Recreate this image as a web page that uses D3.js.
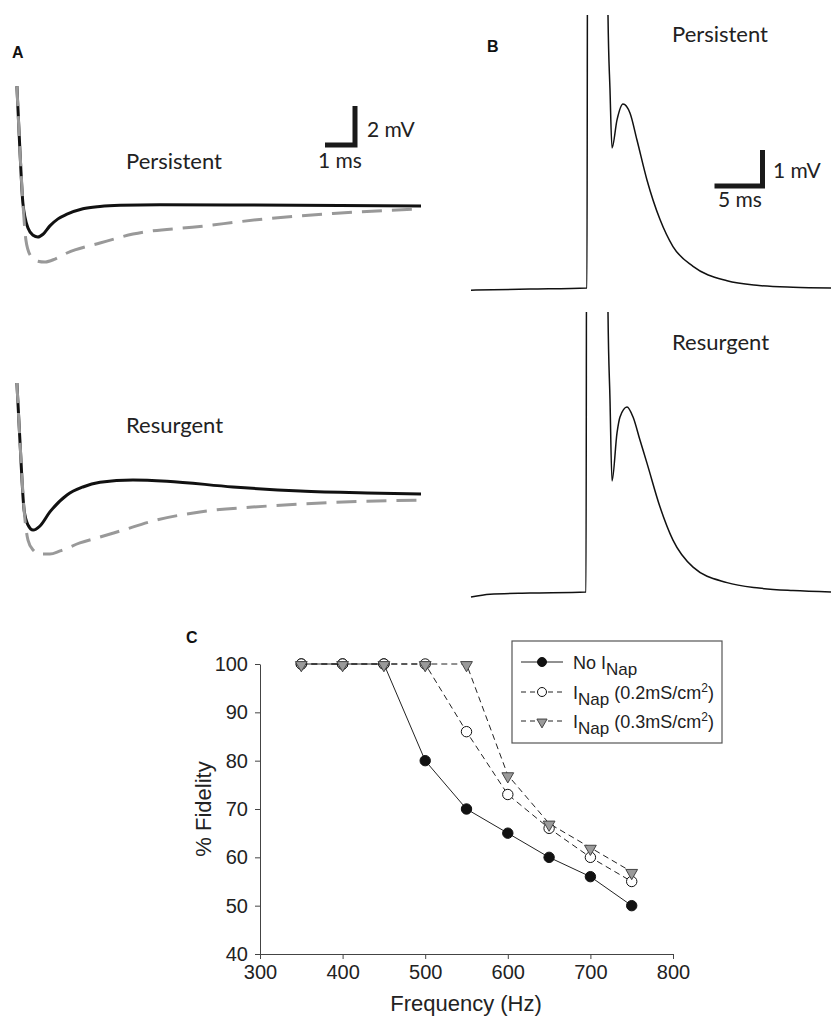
<html>
<head>
<meta charset="utf-8">
<style>
    body { margin:0; background:#fff; }
    .trace-label { font-family: Lato, "Open Sans", sans-serif; font-size:22px; fill:#222; }
    .bar-label { font-family: Lato, "Open Sans", sans-serif; font-size:21px; fill:#222; }
    .panel { font-family: "Liberation Sans", Arial, sans-serif; font-weight:bold; font-size:16px; fill:#111; }
    .axis text { font-family: "Liberation Sans", Arial, sans-serif; font-size:20px; fill:#222; }
    .axis path, .axis line { stroke:#444; }
    .legend text { font-family: "Liberation Sans", Arial, sans-serif; font-size:18px; fill:#222; }
</style>
</head>
<body>
<svg id="figure"></svg>
<script src="https://d3js.org/d3.v7.min.js"></script>
<script>

// ---- panel A traces, [time ms, voltage mV] ----
var persistentBlack = [[0.03,6.15],[0.13,2.87],[0.23,0.15],[0.4,-1.13],[0.57,-1.5],[0.73,-1.59],[0.9,-1.45],
    [1.13,-1.02],[1.4,-0.66],[1.7,-0.42],[2.23,-0.14],[2.8,-0.02],[3.47,0.04],[4.8,0.07],[7.8,0.05],[10.8,0.02],[13.5,0]];
var persistentGray = [[0.03,6.15],[0.13,2.87],[0.23,0.15],[0.33,-1.74],[0.47,-2.51],[0.7,-2.82],[0.97,-2.87],
    [1.3,-2.72],[1.7,-2.41],[2.8,-1.9],[3.9,-1.44],[6.13,-1.05],[8.37,-0.65],[10.57,-0.38],[13.5,-0.15]];
var resurgentBlack = [[0.03,5.69],[0.13,2.77],[0.27,-0.82],[0.4,-1.59],[0.57,-1.85],[0.8,-1.64],[1.13,-0.92],
    [1.7,-0.05],[2.23,0.36],[2.8,0.6],[3.9,0.72],[5.03,0.66],[7.23,0.36],[9.47,0.15],[11.7,0.05],[13.5,0]];
var resurgentGray = [[0.03,5.69],[0.13,2.77],[0.27,-0.82],[0.4,-2.36],[0.57,-2.87],[0.8,-3.08],[1.13,-3.08],
    [1.47,-2.92],[2.13,-2.51],[2.8,-2.21],[3.47,-1.9],[4.7,-1.33],[6.13,-0.92],[8.37,-0.62],[10.57,-0.43],[13.5,-0.31]];

// ---- panel B traces, [time ms, voltage mV] (spike top is off the panel) ----
var spikePersistent = [[0,-0.06],[6.15,-0.03],[12.08,0],[12.15,12],[14.2,12],[14.27,7.58],[14.48,5.5],[14.69,3.89],
    [15.21,4.67],[15.83,5.11],[16.56,4.86],[17.29,4.11],[18.33,3.0],[19.69,1.9],[21.04,1.15],[23.13,0.6],
    [26.67,0.2],[30,0.07],[33.54,0.02],[37.5,0]];
var spikeResurgent = [[0,-0.14],[1.98,-0.06],[6.15,-0.03],[11.98,0],[12.05,12],[14.2,12],[14.27,7.78],[14.48,5.33],
    [14.69,3.08],[15.21,4.42],[15.52,4.86],[16.25,5.14],[16.88,4.86],[17.6,4.22],[18.33,3.58],[19.69,2.36],
    [21.04,1.44],[23.13,0.69],[26.67,0.26],[30,0.11],[33.54,0.04],[37.5,0]];

// ---- panel C ----
var freqHz = [350,400,450,500,550,600,650,700,750];
var fidelityNoNap = [100,100,100,80,70,65,60,56,50];
var fidelityNap02 = [100,100,100,100,86,73,66,60,55];
var fidelityNap03 = [100,100,100,100,100,77,67,62,57];
var xTicks = [300,400,500,600,700,800];
var yTicks = [40,50,60,70,80,90,100];

var svg = d3.select("#figure")
    .attr("width",831)
    .attr("height",1017);

svg.append("rect").attr("width",831).attr("height",1017).attr("fill","#fff");

var defs = svg.append("defs");
defs.append("clipPath").attr("id","clipBTop")
    .append("rect").attr("x",460).attr("y",15).attr("width",371).attr("height",290);
defs.append("clipPath").attr("id","clipBBot")
    .append("rect").attr("x",460).attr("y",312).attr("width",371).attr("height",300);

var addText = function(cls,x,y,txt)
{
    return svg.append("text").attr("class",cls).attr("x",x).attr("y",y).text(txt);
}

// ===== Panel A =====
var aX = d3.scaleLinear().domain([0,13.5]).range([16,421]);
var aYTop = d3.scaleLinear().domain([-4,7]).range([284,69.5]);
var aYBot = d3.scaleLinear().domain([-4,7]).range([572,357.5]);

var drawTrace = function(data,xs,ys,color,width,dash,clip)
{
    var line = d3.line()
        .x(function(d){ return xs(d[0]); })
        .y(function(d){ return ys(d[1]); })
        .curve(d3.curveMonotoneX);
    var p = svg.append("path")
        .attr("d",line(data))
        .attr("fill","none")
        .attr("stroke",color)
        .attr("stroke-width",width);
    if(dash) p.attr("stroke-dasharray",dash);
    if(clip) p.attr("clip-path","url(#"+clip+")");
}

drawTrace(persistentBlack,aX,aYTop,"#111",3);
drawTrace(persistentGray,aX,aYTop,"#999",3,"20,10");
drawTrace(resurgentBlack,aX,aYBot,"#111",3);
drawTrace(resurgentGray,aX,aYBot,"#999",3,"20,10");

// scale bar A: 1 ms x 2 mV
var barA = {x:355, y:145};
svg.append("path")
    .attr("d","M"+(barA.x-(aX(1)-aX(0)))+","+barA.y+"H"+barA.x+"V"+(barA.y-(aYTop(0)-aYTop(2))))
    .attr("fill","none").attr("stroke","#1a1a1a").attr("stroke-width",5);

addText("panel",12,58,"A");
addText("trace-label",126,169,"Persistent");
addText("trace-label",126,433,"Resurgent");
addText("bar-label",367,137,"2 mV");
addText("bar-label",318,168,"1 ms");

// ===== Panel B =====
var bX = d3.scaleLinear().domain([0,37.5]).range([471,831]);
var bYTop = d3.scaleLinear().domain([0,1]).range([288,252]);
var bYBot = d3.scaleLinear().domain([0,1]).range([592,556]);

drawTrace(spikePersistent,bX,bYTop,"#111",1.5,null,"clipBTop");
drawTrace(spikeResurgent,bX,bYBot,"#111",1.5,null,"clipBBot");

// scale bar B: 5 ms x 1 mV
var barB = {x:762.5, y:186};
svg.append("path")
    .attr("d","M"+(barB.x-(bX(5)-bX(0)))+","+barB.y+"H"+barB.x+"V"+(barB.y-(bYTop(0)-bYTop(1))))
    .attr("fill","none").attr("stroke","#1a1a1a").attr("stroke-width",5);

addText("panel",487,52,"B");
addText("trace-label",672,42,"Persistent");
addText("trace-label",672,350,"Resurgent");
addText("bar-label",773,178,"1 mV");
addText("bar-label",718,207,"5 ms");

// ===== Panel C =====
var cX = d3.scaleLinear().domain([300,800]).range([260,673]);
var cY = d3.scaleLinear().domain([40,100]).range([954,664]);

svg.append("g")
    .attr("class","axis")
    .attr("transform","translate(0,954)")
    .call(d3.axisBottom(cX).tickValues(xTicks).tickSize(5).tickPadding(6).tickSizeOuter(0));

svg.append("g")
    .attr("class","axis")
    .attr("transform","translate(260,0)")
    .call(d3.axisLeft(cY).tickValues(yTicks).tickSize(5).tickPadding(7).tickSizeOuter(0));

addText("panel",186,643,"C");

svg.append("text")
    .attr("transform","translate(211,809) rotate(-90)")
    .attr("text-anchor","middle")
    .style("font-family","'Liberation Sans', Arial, sans-serif")
    .style("font-size","22px")
    .attr("fill","#222")
    .text("% Fidelity");

svg.append("text")
    .attr("x",466).attr("y",1011)
    .attr("text-anchor","middle")
    .style("font-family","'Liberation Sans', Arial, sans-serif")
    .style("font-size","22px")
    .attr("fill","#222")
    .text("Frequency (Hz)");

var series = [
    {values:fidelityNoNap, dash:null, marker:"filled"},
    {values:fidelityNap02, dash:"6,4", marker:"open"},
    {values:fidelityNap03, dash:"6,4", marker:"tri"}
];

var triangle = d3.symbol().type(d3.symbolTriangle).size(60);
var triangleSmall = d3.symbol().type(d3.symbolTriangle).size(45);

var drawMarker = function(g,kind,x,y,small)
{
    if(kind=="tri")
    {
        g.append("path")
            .attr("d",(small?triangleSmall:triangle)())
            .attr("transform","translate("+x+","+(y+1)+") rotate(180)")
            .attr("fill","#9a9a9a").attr("stroke","#444").attr("stroke-width",1);
    }
    else
    {
        g.append("circle")
            .attr("cx",x).attr("cy",y).attr("r",small?4.5:5.2)
            .attr("fill",kind=="filled"?"#111":"#fff")
            .attr("stroke","#111").attr("stroke-width",1);
    }
}

var plot = svg.append("g");
series.forEach(function(s)
{
    var pts = freqHz.map(function(f,i){ return [f,s.values[i]]; });
    var line = d3.line()
        .x(function(d){ return cX(d[0]); })
        .y(function(d){ return cY(d[1]); });
    var p = plot.append("path")
        .attr("d",line(pts))
        .attr("fill","none")
        .attr("stroke","#222")
        .attr("stroke-width",1);
    if(s.dash) p.attr("stroke-dasharray",s.dash);
});
series.forEach(function(s)
{
    freqHz.forEach(function(f,i)
    {
        drawMarker(plot,s.marker,cX(f),cY(s.values[i]),false);
    });
});

// legend
var legend = svg.append("g").attr("class","legend");
legend.append("rect")
    .attr("x",512).attr("y",641).attr("width",210).attr("height",102)
    .attr("fill","#fff").attr("stroke","#555").attr("stroke-width",1.2);

var legendRows = [
    {y:662, marker:"filled", dash:null, label:"No I", sub:"Nap", rest:"", sup:"", end:""},
    {y:692, marker:"open", dash:"5,4", label:"I", sub:"Nap", rest:" (0.2mS/cm", sup:"2", end:")"},
    {y:721, marker:"tri", dash:"5,4", label:"I", sub:"Nap", rest:" (0.3mS/cm", sup:"2", end:")"}
];

legendRows.forEach(function(r)
{
    var l = legend.append("line")
        .attr("x1",521).attr("x2",563).attr("y1",r.y).attr("y2",r.y)
        .attr("stroke","#222").attr("stroke-width",1);
    if(r.dash) l.attr("stroke-dasharray",r.dash);
    drawMarker(legend,r.marker,542,r.y,true);

    var t = legend.append("text").attr("x",573).attr("y",r.y+7);
    t.append("tspan").text(r.label);
    t.append("tspan").attr("dy",6).style("font-size","17px").text(r.sub);
    if(r.rest)
    {
        t.append("tspan").attr("dy",-6).text(r.rest);
        t.append("tspan").attr("dy",-7).style("font-size","12px").text(r.sup);
        t.append("tspan").attr("dy",7).text(r.end);
    }
});

</script>
</body>
</html>
